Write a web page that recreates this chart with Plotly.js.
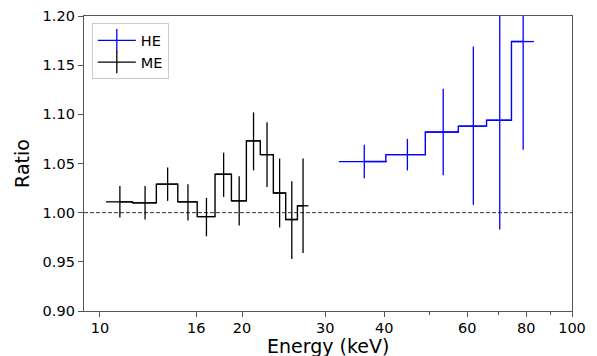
<!DOCTYPE html>
<html>
<head>
<meta charset="utf-8">
<script src="https://cdn.plot.ly/plotly-3.0.1.min.js"></script>
<style>html,body{margin:0;padding:0;background:#fff;}#chart{width:597px;height:356px;}</style>
</head>
<body>
<div id="chart"></div>
<script>
// ME data (black)
const meEnergy = [11.02, 12.46, 13.91, 15.36, 16.81, 18.28, 19.72, 21.15, 22.59, 24.02, 25.49, 26.93];
const meHalfWidth = [0.72, 0.72, 0.72, 0.72, 0.72, 0.72, 0.72, 0.72, 0.72, 0.72, 0.72, 0.72];
const meRatio = [1.011, 1.010, 1.029, 1.011, 0.996, 1.039, 1.012, 1.073, 1.059, 1.020, 0.993, 1.007];
const meErrUp = [0.016, 0.017, 0.017, 0.018, 0.019, 0.022, 0.025, 0.029, 0.033, 0.035, 0.039, 0.048];
const meErrDown = [0.016, 0.017, 0.017, 0.019, 0.020, 0.023, 0.025, 0.030, 0.033, 0.035, 0.040, 0.048];

// HE data (blue)
const heEnergy = [36.3, 44.8, 53.35, 61.8, 70.3, 78.8];
const heHalfWidth = [4.23, 4.27, 4.27, 4.2, 4.27, 4.23];
const heRatio = [1.052, 1.059, 1.082, 1.088, 1.094, 1.174];
const heErrUp = [0.017, 0.016, 0.044, 0.081, 0.111, 0.110];
const heErrDown = [0.017, 0.016, 0.044, 0.080, 0.111, 0.110];

const xTicks = [10, 16, 20, 30, 40, 60, 80, 100];
const xMinorTicks = [50, 70, 90];
const yTicks = [0.90, 0.95, 1.00, 1.05, 1.10, 1.15, 1.20];
const xTitle = 'Energy (keV)';
const yTitle = 'Ratio';

function stepTrace(x, hw, y, up, down, color) {
  return {
    type: 'scatter', mode: 'lines', x: x, y: y, showlegend: false,
    line: {color: color, width: 1.4, shape: 'hvh'},
    error_x: {type: 'data', array: hw, visible: true, color: color, thickness: 1.3, width: 0},
    error_y: {type: 'data', symmetric: false, array: up, arrayminus: down, visible: true, color: color, thickness: 1.3, width: 0},
    hoverinfo: 'skip'
  };
}
function legendTrace(name, color) {
  return {
    type: 'scatter', mode: 'lines+markers', x: [null], y: [null], name: name,
    line: {color: color, width: 1.3},
    marker: {symbol: 'line-ns', size: 16, line: {color: color, width: 1.3}, color: color}
  };
}

const data = [
  stepTrace(heEnergy, heHalfWidth, heRatio, heErrUp, heErrDown, '#0000ff'),
  stepTrace(meEnergy, meHalfWidth, meRatio, meErrUp, meErrDown, '#000000'),
  legendTrace('HE', '#0000ff'),
  legendTrace('ME', '#000000')
];

const axisCommon = {
  showgrid: false, zeroline: false, showline: true, mirror: true,
  linecolor: '#555555', linewidth: 1.2, ticks: 'outside', ticklen: 5,
  tickcolor: '#555555', tickwidth: 1, tickfont: {family: 'DejaVu Sans', size: 14.5, color: '#000'}
};

const layout = {
  width: 597, height: 356,
  margin: {l: 83.5, r: 24.5, t: 15.7, b: 45},
  paper_bgcolor: '#fff', plot_bgcolor: '#fff',
  font: {family: 'DejaVu Sans', color: '#000'},
  xaxis: Object.assign({}, axisCommon, {
    type: 'log', range: [Math.log10(9.25), 2],
    tickmode: 'array', tickvals: xTicks, ticktext: xTicks.map(String),
    ticklabelstandoff: -2,
    minor: {tickmode: 'array', tickvals: xMinorTicks, ticklen: 2.5, tickcolor: '#555555', ticks: 'outside'}
  }),
  yaxis: Object.assign({}, axisCommon, {
    range: [0.90, 1.20], tickmode: 'array', tickvals: yTicks, ticktext: yTicks.map(v => v.toFixed(2)),
    title: {text: yTitle, font: {family: 'DejaVu Sans', size: 19}, standoff: 8}
  }),
  annotations: [{
    text: xTitle, xref: 'paper', yref: 'paper', x: 0.5, y: (311 - 346) / 295.3,
    xanchor: 'center', yanchor: 'middle', showarrow: false,
    font: {family: 'DejaVu Sans', size: 19, color: '#000'}
  }],
  shapes: [{type: 'line', xref: 'paper', x0: 0, x1: 1, yref: 'y', y0: 1.0, y1: 1.0,
    line: {color: '#333333', width: 1, dash: '4px,2px'}, layer: 'below'}],
  legend: {x: 0.016, y: 0.975, xanchor: 'left', yanchor: 'top', bgcolor: 'rgba(255,255,255,0.9)',
    bordercolor: '#cccccc', borderwidth: 1, font: {family: 'DejaVu Sans', size: 14.5}, itemwidth: 38, tracegroupgap: 0},
  showlegend: true
};

Plotly.newPlot('chart', data, layout, {displayModeBar: false, staticPlot: true});
</script>
</body>
</html>
